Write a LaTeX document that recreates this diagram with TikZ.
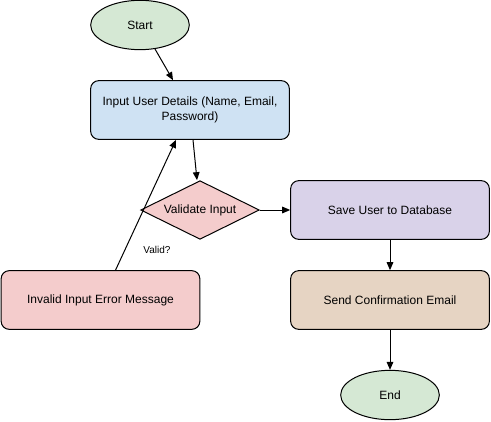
\documentclass[tikz,border=0pt]{standalone}
\usepackage{fontspec}
\setmainfont{Liberation Sans}
\usepackage{tikz}
\usetikzlibrary{shapes.geometric}
\usetikzlibrary{arrows.meta}
\definecolor{termgreen}{HTML}{D5E8D4}
\definecolor{inputblue}{HTML}{CFE2F3}
\definecolor{errpink}{HTML}{F4CCCC}
\definecolor{savepurple}{HTML}{D9D2E9}
\definecolor{sendbrown}{HTML}{E6D4C3}
\begin{document}
\begin{tikzpicture}[x=0.75pt, y=-0.75pt, line width=0.75pt,
	font=\fontsize{9}{11.25}\selectfont,
	box/.style={draw, rectangle, rounded corners=6pt, minimum width=149pt, minimum height=44pt, align=center},
	term/.style={draw, ellipse, fill=termgreen, minimum width=74pt, minimum height=37pt},
	decide/.style={draw, diamond, aspect=2, fill=errpink, inner sep=0pt, minimum width=89pt, minimum height=44pt},
	>={Triangle[length=6pt, width=5pt]}]
	\useasboundingbox (0,0) rectangle (491,421);

	\node[term] (start) at (140,25) {Start};
	\node[box, fill=inputblue] (input) at (190,110) {Input User Details (Name, Email,\\Password)};
	\node[decide] (validate) at (200,210) {Validate Input};
	\node[box, fill=savepurple] (save) at (390,210) {Save User to Database};
	\node[box, fill=sendbrown] (send) at (390,300) {Send Confirmation Email};
	\node[box, fill=errpink] (invalid) at (100.5,300) {Invalid Input Error Message};
	\node[term] (end) at (390,395) {End};
	\node[font=\fontsize{7.5}{9}\selectfont] (valid) at (157,250) {Valid?};

	\draw[->] (start.-58) -- ([xshift=-12.75pt]input.north);
	\draw[->] ([xshift=2.25pt]input.south) -- ([xshift=-2.25pt]validate.north);
	\draw[->] (validate.east) -- (save.west);
	\draw[->] (save.south) -- (send.north);
	\draw[->] (send.south) -- (end.north);
	\draw[->] ([xshift=11.25pt]invalid.north) -- ([xshift=-10.5pt]input.south);

\end{tikzpicture}
\end{document}
